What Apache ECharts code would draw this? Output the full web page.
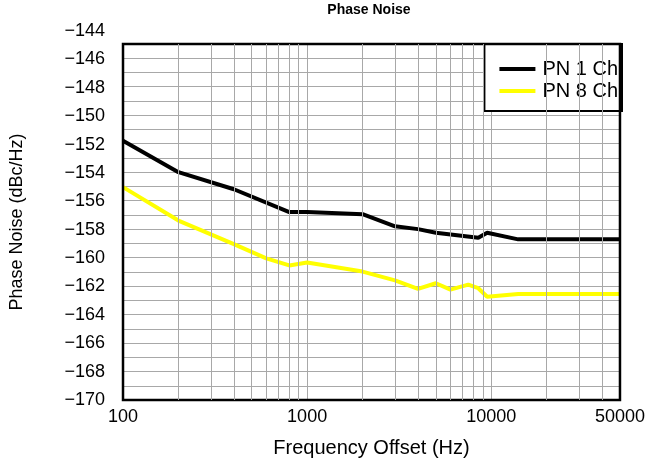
<!DOCTYPE html>
<html>
<head>
<meta charset="utf-8">
<script src="https://cdn.jsdelivr.net/npm/echarts@6/dist/echarts.min.js"></script>
<style>
html,body{margin:0;padding:0;background:#fff;}
#chart{width:648px;height:466px;}
</style>
</head>
<body>
<div id="chart"></div>
<script>
// Data
var freq1Ch = [100, 200, 400, 800, 1000, 2000, 3000, 4000, 5000, 8500, 9500, 14000, 50000];
var pn1Ch   = [-151.8, -154.0, -155.2, -156.8, -156.8, -156.95, -157.8, -158.0, -158.25, -158.6, -158.25, -158.72, -158.72];
var freq8Ch = [100, 200, 400, 600, 800, 1000, 2000, 3000, 4000, 5000, 6000, 7500, 8500, 9500, 14000, 50000];
var pn8Ch   = [-155.05, -157.4, -159.05, -160.05, -160.55, -160.35, -160.98, -161.6, -162.2, -161.8, -162.25, -161.9, -162.15, -162.75, -162.55, -162.55];
var minorFreqs = [200,300,400,500,600,700,800,900,2000,3000,4000,5000,6000,7000,8000,9000,20000,30000,40000];
var seriesNames = ['PN 1 Ch', 'PN 8 Ch'];
var yTickMin = -170, yTickMax = -144, yTickStep = 2;

function pairs(xs, ys){ return xs.map(function(x,i){ return [x, ys[i]]; }); }
function minus(v){ return (v < 0 ? '\u2212' : '') + Math.abs(v); }

var FONT = 'Liberation Sans, Arial, sans-serif';
var gridColor = '#a8a8a8';

var chart = echarts.init(document.getElementById('chart'), null, {renderer:'canvas'});
chart.setOption({
  animation: false,
  backgroundColor: '#fff',
  textStyle: {fontFamily: FONT},
  title: {
    text: 'Phase Noise', left: 369, top: 3, padding: 0, textAlign: 'center',
    textStyle: {fontFamily: FONT, fontSize: 14, fontWeight: 'bold', color: '#000'}
  },
  legend: {
    data: seriesNames,
    orient: 'vertical',
    right: 26, top: 44,
    backgroundColor: '#fff',
    borderColor: '#000', borderWidth: 2,
    padding: [15, 4, 10, 15],
    itemGap: 2,
    itemWidth: 36, itemHeight: 4,
    icon: 'rect',
    textStyle: {fontFamily: FONT, fontSize: 20, color: '#000', padding: [0, 0, 0, 2]}
  },
  grid: [
    {left: 115, right: 27, top: 44, bottom: 66, show: true, borderColor: '#000', borderWidth: 2.5, backgroundColor: 'transparent', z: 5},
    {left: 115, right: 27, top: 31, bottom: 66}
  ],
  xAxis: [
    {
      type: 'log', logBase: 10, gridIndex: 0, min: 100, max: 50000,
      name: 'Frequency Offset (Hz)', nameLocation: 'middle', nameGap: 38,
      nameTextStyle: {fontFamily: FONT, fontSize: 20, color: '#000'},
      axisLine: {show: false}, axisTick: {show: false},
      axisLabel: {show: true, showMinLabel: true, showMaxLabel: true, margin: 8,
        fontFamily: FONT, fontSize: 18, color: '#000',
        formatter: function(v){ return String(Math.round(v)); }},
      splitLine: {show: true, lineStyle: {color: gridColor, width: 1}}
    },
    {type: 'log', logBase: 10, gridIndex: 1, min: 100, max: 50000, show: false}
  ],
  yAxis: [
    {
      type: 'value', gridIndex: 0, min: -170, max: -145, interval: 1,
      name: 'Phase Noise (dBc/Hz)', nameLocation: 'middle', nameGap: 97,
      nameTextStyle: {fontFamily: FONT, fontSize: 18, color: '#000'},
      axisLine: {show: false}, axisTick: {show: false},
      axisLabel: {show: false},
      splitLine: {show: true, lineStyle: {color: gridColor, width: 1}}
    },
    {
      type: 'value', gridIndex: 1, min: yTickMin, max: yTickMax, interval: yTickStep,
      axisLine: {show: false}, axisTick: {show: false}, splitLine: {show: false},
      axisLabel: {show: true, margin: 10, fontFamily: FONT, fontSize: 18, color: '#000', formatter: minus}
    }
  ],
  series: [
    {
      name: 'minor grid', type: 'line', xAxisIndex: 0, yAxisIndex: 0,
      data: [[100, -170]], symbol: 'none', lineStyle: {opacity: 0}, silent: true, z: 1,
      markLine: {
        silent: true, symbol: ['none', 'none'], label: {show: false},
        lineStyle: {color: gridColor, width: 1, type: 'solid'},
        data: minorFreqs.map(function(f){ return {xAxis: f}; })
      }
    },
    {
      name: seriesNames[0], type: 'line', xAxisIndex: 0, yAxisIndex: 0,
      data: pairs(freq1Ch, pn1Ch), symbol: 'none', z: 3,
      lineStyle: {color: '#000', width: 4}, itemStyle: {color: '#000'}
    },
    {
      name: seriesNames[1], type: 'line', xAxisIndex: 0, yAxisIndex: 0,
      data: pairs(freq8Ch, pn8Ch), symbol: 'none', z: 3,
      lineStyle: {color: '#ffff00', width: 4}, itemStyle: {color: '#ffff00'}
    }
  ]
});
</script>
</body>
</html>
